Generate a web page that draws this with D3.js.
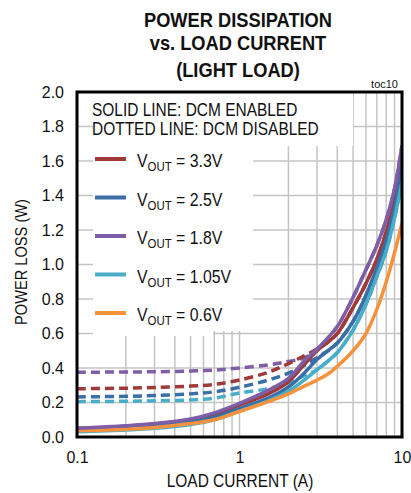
<!DOCTYPE html>
<meta charset="utf-8">
<script src="https://d3js.org/d3.v7.min.js"></script>
<style>
  body { margin: 0; background: #fff; }
  text { font-family: "Liberation Sans", Arial, sans-serif; fill: #111; }
</style>
<div id="my_dataviz"></div>
<script>

// load current (A)
var currents = [0.1, 0.2, 0.3, 0.5, 0.7, 1, 1.5, 2, 2.5, 3, 3.5, 4, 5, 6, 7, 8, 9, 10];

// power loss (W), solid = DCM enabled, dashed = DCM disabled
var solid33  = [0.05, 0.062, 0.075, 0.1, 0.13, 0.185, 0.25, 0.32, 0.42, 0.5, 0.55, 0.6, 0.75, 0.89, 1.03, 1.19, 1.37, 1.62];
var dashed33 = [0.28, 0.283, 0.287, 0.295, 0.305, 0.33, 0.375, 0.425, 0.47, 0.51, 0.55, 0.6, 0.75, 0.89, 1.03, 1.19, 1.37, 1.62];
var solid25  = [0.042, 0.052, 0.064, 0.088, 0.115, 0.165, 0.225, 0.29, 0.37, 0.45, 0.5, 0.545, 0.67, 0.82, 0.98, 1.14, 1.33, 1.56];
var dashed25 = [0.232, 0.236, 0.24, 0.25, 0.262, 0.288, 0.33, 0.37, 0.415, 0.46, 0.5, 0.545, 0.67, 0.82, 0.98, 1.14, 1.33, 1.56];
var solid18  = [0.05, 0.065, 0.078, 0.105, 0.14, 0.195, 0.27, 0.34, 0.44, 0.51, 0.575, 0.64, 0.81, 0.97, 1.11, 1.26, 1.44, 1.69];
var dashed18 = [0.375, 0.377, 0.378, 0.382, 0.388, 0.4, 0.418, 0.438, 0.458, 0.51, 0.575, 0.64, 0.81, 0.97, 1.11, 1.26, 1.44, 1.69];
var solid105  = [0.03, 0.04, 0.05, 0.073, 0.1, 0.15, 0.21, 0.265, 0.33, 0.39, 0.44, 0.49, 0.62, 0.77, 0.93, 1.08, 1.27, 1.48];
var dashed105 = [0.205, 0.207, 0.21, 0.215, 0.225, 0.255, 0.28, 0.315, 0.355, 0.39, 0.44, 0.49, 0.62, 0.77, 0.93, 1.08, 1.27, 1.48];
var solid06  = [0.036, 0.045, 0.055, 0.078, 0.1, 0.148, 0.205, 0.25, 0.295, 0.33, 0.365, 0.41, 0.5, 0.6, 0.74, 0.9, 1.07, 1.24];

var legendNames = ["3.3V", "2.5V", "1.8V", "1.05V", "0.6V"];
var colors = ["#a03a3a", "#3a6ea6", "#7e5ea6", "#48adc8", "#f7923c"];

var yTicks = [0, 0.2, 0.4, 0.6, 0.8, 1.0, 1.2, 1.4, 1.6, 1.8, 2.0];
var xTicks = [0.1, 1, 10];
var xGrid = [0.2, 0.3, 0.4, 0.5, 0.6, 0.7, 0.8, 0.9, 1, 2, 3, 4, 5, 6, 7, 8, 9];

var titleLines = ["POWER DISSIPATION", "vs. LOAD CURRENT", "(LIGHT LOAD)"];

var margin = {top: 92, right: 9, bottom: 56, left: 77},
    width = 411 - margin.left - margin.right,
    height = 493 - margin.top - margin.bottom;

var svg = d3.select("#my_dataviz")
  .append("svg")
    .attr("width", 411)
    .attr("height", 493);

var g = svg.append("g")
    .attr("transform", "translate(" + margin.left + "," + margin.top + ")");

var x = d3.scaleLog().domain([0.1, 10]).range([0, width]);
var y = d3.scaleLinear().domain([0, 2]).range([height, 0]);

// narrow text helper
function label(parent, px, py, str, size, anchor, sx, weight) {
  return parent.append("text")
    .attr("transform", "translate(" + px + "," + py + ") scale(" + sx + ",1)")
    .attr("text-anchor", anchor)
    .style("font-size", size + "px")
    .style("font-weight", weight || "normal")
    .text(str);
}

// title
titleLines.forEach(function(t, i) {
  label(svg, 238, [27, 50, 77][i], t, 21, "middle", 0.87, "bold");
});
label(svg, 398, 88, "toc10", 11, "end", 1);

// grid
g.selectAll(".hgrid")
  .data(yTicks.slice(1, -1))
  .enter().append("line")
    .attr("x1", 0).attr("x2", width)
    .attr("y1", function(d) { return y(d); })
    .attr("y2", function(d) { return y(d); })
    .attr("stroke", "#c4c4c4").attr("stroke-width", 1.5);
g.selectAll(".vgrid")
  .data(xGrid)
  .enter().append("line")
    .attr("x1", function(d) { return x(d); })
    .attr("x2", function(d) { return x(d); })
    .attr("y1", 0).attr("y2", height)
    .attr("stroke", "#c4c4c4").attr("stroke-width", 1.5);

// legend background hides the grid
g.append("rect").attr("x", 16).attr("y", 1).attr("width", 260).attr("height", 53).attr("fill", "#fff");
g.append("rect").attr("x", 16).attr("y", 1).attr("width", 160).attr("height", 238).attr("fill", "#fff");
g.append("rect").attr("x", 16).attr("y", 1).attr("width", 120).attr("height", 243).attr("fill", "#fff");

// curves
var line = d3.line()
  .x(function(d) { return x(d[0]); })
  .y(function(d) { return y(d[1]); })
  .curve(d3.curveCatmullRom.alpha(0.5));

function pts(vals) { return currents.map(function(c, i) { return [c, vals[i]]; }); }

g.append("clipPath").attr("id", "clip")
  .append("rect").attr("width", width).attr("height", height);
var plot = g.append("g").attr("clip-path", "url(#clip)");

var dashed = [[dashed18, 2], [dashed33, 0], [dashed25, 1], [dashed105, 3]];
dashed.forEach(function(s) {
  plot.append("path")
    .attr("d", line(pts(s[0])))
    .attr("fill", "none")
    .attr("stroke", colors[s[1]])
    .attr("stroke-width", 3.5)
    .attr("stroke-dasharray", "9,5");
});

var solid = [[solid33, 0], [solid25, 1], [solid105, 3], [solid06, 4], [solid18, 2]];
solid.forEach(function(s) {
  plot.append("path")
    .attr("d", line(pts(s[0])))
    .attr("fill", "none")
    .attr("stroke", colors[s[1]])
    .attr("stroke-width", 3.5);
});

// legend
label(g, 15, 24, "SOLID LINE: DCM ENABLED", 18, "start", 0.86);
label(g, 15, 43, "DOTTED LINE: DCM DISABLED", 18, "start", 0.86);

legendNames.forEach(function(n, i) {
  var ly = 67 + i * 38.5;
  g.append("line")
    .attr("x1", 18).attr("x2", 49)
    .attr("y1", ly).attr("y2", ly)
    .attr("stroke", colors[i]).attr("stroke-width", 4);
  var t = label(g, 60, ly + 8, "", 18, "start", 0.88);
  t.append("tspan").text("V");
  t.append("tspan").attr("dy", 4).style("font-size", "13px").text("OUT");
  t.append("tspan").attr("dy", -4).text(" = " + n);
});

// frame
g.append("rect")
  .attr("width", width).attr("height", height)
  .attr("fill", "none").attr("stroke", "#000").attr("stroke-width", 3);

// axes
var yAxis = g.append("g")
  .call(d3.axisLeft(y).tickValues(yTicks).tickFormat(d3.format(".1f")).tickSize(0).tickPadding(13));
var xAxis = g.append("g")
  .attr("transform", "translate(0," + height + ")")
  .call(d3.axisBottom(x).tickValues(xTicks).tickFormat(function(d) { return String(d); }).tickSize(0).tickPadding(15));
[yAxis, xAxis].forEach(function(a) {
  a.select(".domain").remove();
  a.selectAll("text").style("font-size", "16px").attr("fill", "#111")
    .style("font-family", "'Liberation Sans', Arial, sans-serif");
});

label(svg, 240, 487, "LOAD CURRENT (A)", 18, "middle", 0.86);
svg.append("text")
  .attr("transform", "translate(27,262) rotate(-90) scale(0.86,1)")
  .attr("text-anchor", "middle")
  .style("font-size", "17px")
  .text("POWER LOSS (W)");

</script>
